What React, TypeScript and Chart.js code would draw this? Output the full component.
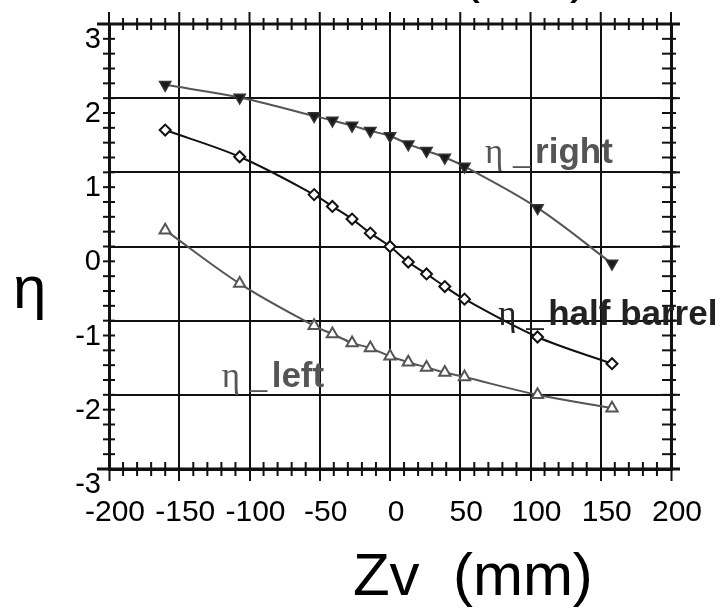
import { useEffect, useRef } from "react";
import { Chart, registerables } from "chart.js";

Chart.register(...registerables);

// ---- data ----
const zv = [-160, -107, -54, -41, -27, -14, 0, 13, 26, 39, 53, 105, 158];
const etaRight = [2.38, 2.21, 1.96, 1.9, 1.83, 1.76, 1.69, 1.58, 1.49, 1.4, 1.28, 0.72, -0.03];
const etaHalfBarrel = [1.77, 1.41, 0.9, 0.74, 0.57, 0.38, 0.2, -0.01, -0.17, -0.34, -0.51, -1.02, -1.38];
const etaLeft = [0.42, -0.3, -0.87, -0.98, -1.1, -1.17, -1.28, -1.36, -1.43, -1.5, -1.56, -1.8, -1.98];

const xTickValues = [-200, -150, -100, -50, 0, 50, 100, 150, 200];
const yTickLabels = [3, 2, 1, 0, -1, -2, -3];
const yGridValues = [-1.8, -0.8, 0.2, 1.2, 2.2];
const xTitle = "Zv  (mm)";
const topTitle = "(mm)";
const yTitle = "η";
const seriesWords = ["right", "half barrel", "left"];

const SANS = '"Liberation Sans", Arial, sans-serif';
const SERIF = '"Liberation Serif", "Times New Roman", serif';

const framePlugin = {
  id: "frame",
  afterDraw(chart: any) {
    const { ctx, chartArea: a, scales } = chart;
    const x = scales.x;
    const y = scales.y;
    const ink = "#111";
    const seg = (x1: number, y1: number, x2: number, y2: number) => {
      ctx.beginPath();
      ctx.moveTo(x1, y1);
      ctx.lineTo(x2, y2);
      ctx.stroke();
    };
    ctx.save();
    ctx.strokeStyle = ink;
    ctx.lineCap = "butt";

    // top and bottom axis lines
    ctx.lineWidth = 3;
    seg(a.left - 12, a.top, a.right + 9, a.top);
    seg(a.left - 12, a.bottom, a.right + 9, a.bottom);

    // major x ticks above the top axis
    ctx.lineWidth = 2;
    xTickValues.forEach((v) => {
      const px = x.getPixelForValue(v);
      seg(px, a.top - 12, px, a.top);
    });

    // minor x ticks every 10
    for (let v = -190; v < 200; v += 10) {
      if (v % 50 === 0) continue;
      const px = x.getPixelForValue(v);
      seg(px, a.top - 6, px, a.top + 6);
      seg(px, a.bottom - 7, px, a.bottom + 7);
    }

    // y ticks every 0.2 on the left and right axes
    for (let k = 0; k <= 30; k++) {
      const v = -2.8 + 0.2 * k;
      const py = y.getPixelForValue(v);
      seg(a.left - 6, py, a.left + 6, py);
      seg(a.right - 9, py, a.right + 5, py);
    }
    // grid lines continue slightly past the right axis
    yGridValues.forEach((v) => {
      const py = y.getPixelForValue(v);
      seg(a.right, py, a.right + 9, py);
    });

    // y tick labels
    ctx.fillStyle = "#000";
    ctx.font = `29px ${SANS}`;
    ctx.textAlign = "right";
    ctx.textBaseline = "middle";
    yTickLabels.forEach((v) => {
      ctx.fillText(String(v), a.left - 8, y.getPixelForValue(v) + 1);
    });

    // y title
    ctx.textAlign = "left";
    ctx.textBaseline = "alphabetic";
    ctx.font = `60px ${SANS}`;
    ctx.fillText(yTitle, 13, 308);

    // x title
    ctx.textAlign = "center";
    ctx.font = `60px ${SANS}`;
    ctx.fillText(xTitle, x.getPixelForValue(59), 595);

    // clipped title at the very top
    ctx.font = `54px ${SANS}`;
    ctx.textAlign = "left";
    ctx.fillText(topTitle, 462, -8);

    // series labels
    const drawLabel = (zx: number, ey: number, word: string, color: string) => {
      const px = x.getPixelForValue(zx);
      const py = y.getPixelForValue(ey);
      ctx.fillStyle = color;
      ctx.textAlign = "left";
      ctx.textBaseline = "alphabetic";
      ctx.font = `35px ${SERIF}`;
      ctx.fillText("η", px, py);
      ctx.fillText("_", px + 28, py);
      ctx.font = `bold 35px ${SANS}`;
      ctx.fillText(word, px + 50, py);
    };
    drawLabel(67.7, 1.33, seriesWords[0], "#555");
    drawLabel(77, -0.86, seriesWords[1], "#222");
    drawLabel(-119.8, -1.7, seriesWords[2], "#555");

    ctx.restore();
  },
};

export default function App() {
  const ref = useRef<HTMLCanvasElement | null>(null);

  useEffect(() => {
    if (!ref.current) return;
    const toPts = (ys: number[]) => zv.map((v, i) => ({ x: v, y: ys[i] }));
    const chart = new Chart(ref.current, {
      type: "line",
      data: {
        datasets: [
          {
            label: "η_right",
            data: toPts(etaRight),
            borderColor: "#555",
            borderWidth: 2,
            backgroundColor: "#222",
            pointStyle: "triangle",
            rotation: 180,
            pointRadius: 6.5,
            pointBorderColor: "#333",
            pointBackgroundColor: "#1a1a1a",
            pointBorderWidth: 1.5,
            tension: 0.35,
          },
          {
            label: "η_half barrel",
            data: toPts(etaHalfBarrel),
            borderColor: "#111",
            borderWidth: 2,
            pointStyle: "rectRot",
            pointRadius: 5.5,
            pointBorderColor: "#111",
            pointBackgroundColor: "#fff",
            pointBorderWidth: 2,
            tension: 0.35,
          },
          {
            label: "η_left",
            data: toPts(etaLeft),
            borderColor: "#555",
            borderWidth: 2,
            pointStyle: "triangle",
            pointRadius: 6.5,
            pointBorderColor: "#555",
            pointBackgroundColor: "#fff",
            pointBorderWidth: 2,
            tension: 0.35,
          },
        ],
      },
      options: {
        animation: false,
        responsive: false,
        events: [],
        layout: { padding: { top: 24, right: 52, left: 0, bottom: 0 } },
        plugins: { legend: { display: false }, tooltip: { enabled: false } },
        scales: {
          x: {
            type: "linear",
            min: -200,
            max: 200,
            afterFit: (s: any) => {
              s.height = 139;
            },
            ticks: {
              stepSize: 50,
              color: "#000",
              font: { family: SANS, size: 30 },
              padding: 14,
              labelOffset: 6,
              maxRotation: 0,
              autoSkip: false,
            },
            grid: {
              color: "#111",
              lineWidth: (c: any) => (Math.abs(c.tick?.value) === 200 ? 3 : 2),
              tickLength: 12,
              tickColor: "#111",
              tickWidth: 2,
            },
            border: { display: true, color: "#111", width: 3 },
          },
          y: {
            type: "linear",
            min: -2.8,
            max: 3.2,
            afterFit: (s: any) => {
              s.width = 109;
            },
            afterBuildTicks: (s: any) => {
              s.ticks = yGridValues.map((v) => ({ value: v }));
            },
            ticks: { display: false },
            grid: { color: "#111", lineWidth: 2, drawTicks: false },
            border: { display: true, color: "#111", width: 3 },
          },
        },
      },
      plugins: [framePlugin],
    } as any);
    return () => chart.destroy();
  }, []);

  return (
    <div style={{ position: "fixed", left: 0, top: 0, width: 723, height: 608, background: "#fff" }}>
      <canvas ref={ref} width={723} height={608} style={{ display: "block" }} />
    </div>
  );
}
